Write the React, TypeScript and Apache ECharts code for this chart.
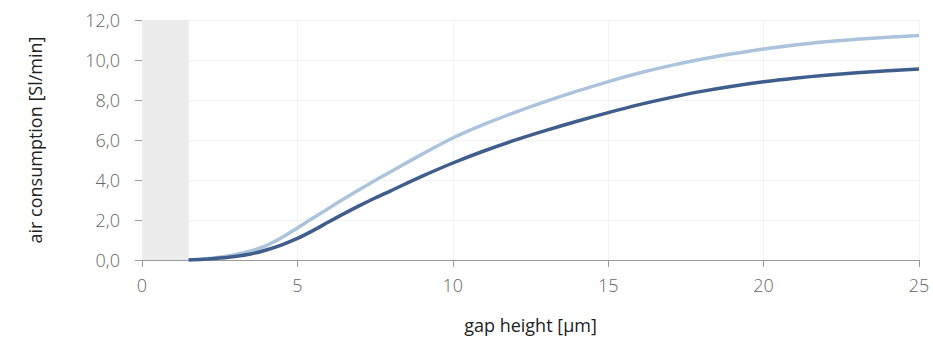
import React, { useEffect, useRef } from "react";
import * as echarts from "echarts";

const gapHeight = [1.5, 2, 2.5, 3, 3.5, 4, 4.5, 5, 5.5, 6, 6.5, 7, 7.5, 8, 9, 10, 11, 12, 13, 14, 15, 16, 17, 18, 19, 20, 21, 22, 23, 24, 25];
const lightSeries = [0, 0.05, 0.14, 0.27, 0.45, 0.72, 1.12, 1.6, 2.1, 2.58, 3.06, 3.53, 3.98, 4.41, 5.28, 6.1, 6.78, 7.38, 7.93, 8.44, 8.92, 9.35, 9.72, 10.04, 10.31, 10.55, 10.75, 10.91, 11.04, 11.14, 11.22];
const darkSeries = [0, 0.04, 0.1, 0.18, 0.3, 0.5, 0.76, 1.08, 1.47, 1.9, 2.32, 2.72, 3.1, 3.46, 4.18, 4.85, 5.45, 5.99, 6.48, 6.94, 7.37, 7.77, 8.12, 8.43, 8.69, 8.91, 9.09, 9.24, 9.36, 9.46, 9.55];
const shadedRange = [0, 1.5];

const FONT = "'Open Sans', 'Noto Sans', sans-serif";

export default function App() {
  const ref = useRef<HTMLDivElement>(null);
  useEffect(() => {
    if (!ref.current) return;
    const chart = echarts.init(ref.current, undefined, { renderer: "svg" });
    const light = gapHeight.map((x, i) => [x, lightSeries[i]]);
    const dark = gapHeight.map((x, i) => [x, darkSeries[i]]);
    chart.setOption({
      animation: false,
      backgroundColor: "#ffffff",
      grid: { left: 142, right: 14, top: 20, bottom: 79 },
      xAxis: {
        type: "value",
        min: 0,
        max: 25,
        interval: 5,
        name: "gap height [µm]",
        nameLocation: "middle",
        nameGap: 56,
        nameTextStyle: { fontFamily: FONT, fontSize: 18, color: "#222" },
        axisLine: { show: true, lineStyle: { color: "#999", width: 1 } },
        axisTick: { show: true, length: 7, lineStyle: { color: "#999" } },
        axisLabel: { margin: 16, fontFamily: FONT, fontSize: 18, color: "#666", fontWeight: 300 },
        splitLine: { show: true, lineStyle: { color: "#f2f2f2", width: 1 } },
      },
      yAxis: {
        type: "value",
        min: 0,
        max: 12,
        interval: 2,
        name: "air consumption [Sl/min]",
        nameLocation: "middle",
        nameGap: 98,
        nameTextStyle: { fontFamily: FONT, fontSize: 18, color: "#222" },
        axisLine: { show: false },
        axisTick: { show: true, length: 7, lineStyle: { color: "#999" } },
        axisLabel: {
          margin: 22,
          fontFamily: FONT,
          fontSize: 18,
          color: "#666",
          fontWeight: 300,
          formatter: (v: number) => v.toFixed(1).replace(".", ","),
        },
        splitLine: { show: true, lineStyle: { color: "#f2f2f2", width: 1 } },
      },
      series: [
        {
          type: "line",
          name: "light",
          data: light,
          smooth: 0.3,
          showSymbol: false,
          lineStyle: { color: "#abc4dc", width: 3.5 },
          z: 2,
          markArea: {
            silent: true,
            itemStyle: { color: "#ececec" },
            data: [[{ xAxis: shadedRange[0] }, { xAxis: shadedRange[1] }]],
          },
        },
        {
          type: "line",
          name: "dark",
          data: dark,
          smooth: 0.3,
          showSymbol: false,
          lineStyle: { color: "#3f5e8c", width: 3.5 },
          z: 3,
        },
      ],
    });
    return () => chart.dispose();
  }, []);
  return <div ref={ref} style={{ width: 933, height: 339, position: "absolute", left: 0, top: 0 }} />;
}
